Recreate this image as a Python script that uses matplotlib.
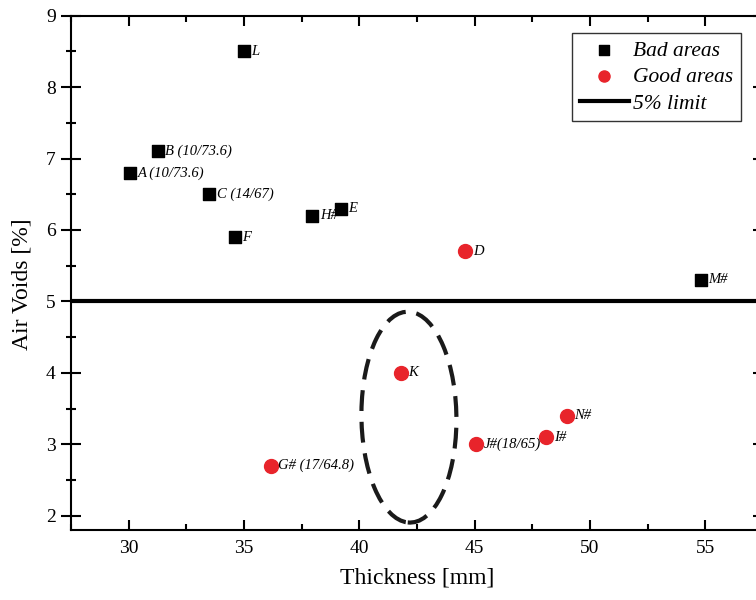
import matplotlib
matplotlib.use("Agg")
import matplotlib.pyplot as plt
from matplotlib.patches import Ellipse
from matplotlib.ticker import MultipleLocator

plt.rcParams['font.family'] = ['Liberation Serif', 'DejaVu Serif']

# bad areas (air voids above the limit)
bad_names = ['L', 'B (10/73.6)', 'A (10/73.6)', 'C (14/67)', 'F', 'H#', 'E', 'M#']
bad_thick = [35.0, 31.25, 30.05, 33.5, 34.6, 37.95, 39.2, 54.8]
bad_voids = [8.5, 7.1, 6.8, 6.5, 5.9, 6.2, 6.3, 5.3]

# good areas
good_names = ['D', 'K', 'G# (17/64.8)', 'J#(18/65)', 'I#', 'N#']
good_thick = [44.6, 41.8, 36.15, 45.05, 48.1, 49.0]
good_voids = [5.7, 4.0, 2.7, 3.0, 3.1, 3.4]

limit = 5.0
red = '#e8242b'

fig = plt.figure(figsize=(7.56, 6.0), dpi=100)
# axes run past the right edge, like the cropped original
ax = fig.add_axes([71 / 756, 70 / 600, 692 / 756, 514.3 / 600])

ax.scatter(bad_thick, bad_voids, marker='s', s=85, color='black', label='Bad areas', zorder=3)
ax.scatter(good_thick, good_voids, marker='o', s=100, color=red, label='Good areas', zorder=3)
ax.axhline(limit, color='black', lw=3, label='5% limit', zorder=2)

for n, x, y in zip(bad_names, bad_thick, bad_voids):
    ax.annotate(n, (x, y), xytext=(5.5, 0), textcoords='offset points',
                va='center', ha='left', fontsize=10.5, style='italic')
for n, x, y in zip(good_names, good_thick, good_voids):
    ax.annotate(n, (x, y), xytext=(5.5, 0), textcoords='offset points',
                va='center', ha='left', fontsize=10.5, style='italic')

# dashed ring round K
ell = Ellipse((42.15, 3.38), 4.12, 2.95, angle=-2, fill=False, edgecolor='#1a1a1a',
              lw=3, linestyle=(0, (5, 2.6)))
ax.add_patch(ell)

ax.set_xlim(27.5, 57.5)
ax.set_ylim(1.8, 9)
ax.xaxis.set_major_locator(MultipleLocator(5))
ax.xaxis.set_minor_locator(MultipleLocator(2.5))
ax.yaxis.set_major_locator(MultipleLocator(1))
ax.yaxis.set_minor_locator(MultipleLocator(0.5))

for s in ax.spines.values():
    s.set_linewidth(1.5)

ax.tick_params(axis='x', which='both', direction='in', top=True, width=1.5, labelsize=14, pad=7)
ax.tick_params(axis='x', which='major', length=7)
ax.tick_params(axis='x', which='minor', length=4)
ax.tick_params(axis='y', which='both', direction='inout', right=True, width=1.5, labelsize=14, pad=4)
ax.tick_params(axis='y', which='major', length=14)
ax.tick_params(axis='y', which='minor', length=7)

ax.set_xlabel('Thickness [mm]', fontsize=17, labelpad=8)
ax.set_ylabel('Air Voids [%]', fontsize=17)
ax.yaxis.set_label_coords(-0.056, 0.478)

leg = ax.legend(loc='upper right', bbox_to_anchor=(741 / 756, 1 - 33 / 600),
                bbox_transform=fig.transFigure, borderaxespad=0, fancybox=False,
                edgecolor='black', prop={'style': 'italic', 'size': 15.5},
                handlelength=2.3, handletextpad=0.2, labelspacing=0.3, borderpad=0.35,
                markerscale=0.8)
leg.get_frame().set_linewidth(1.0)

fig.savefig('out.png', dpi=100)
